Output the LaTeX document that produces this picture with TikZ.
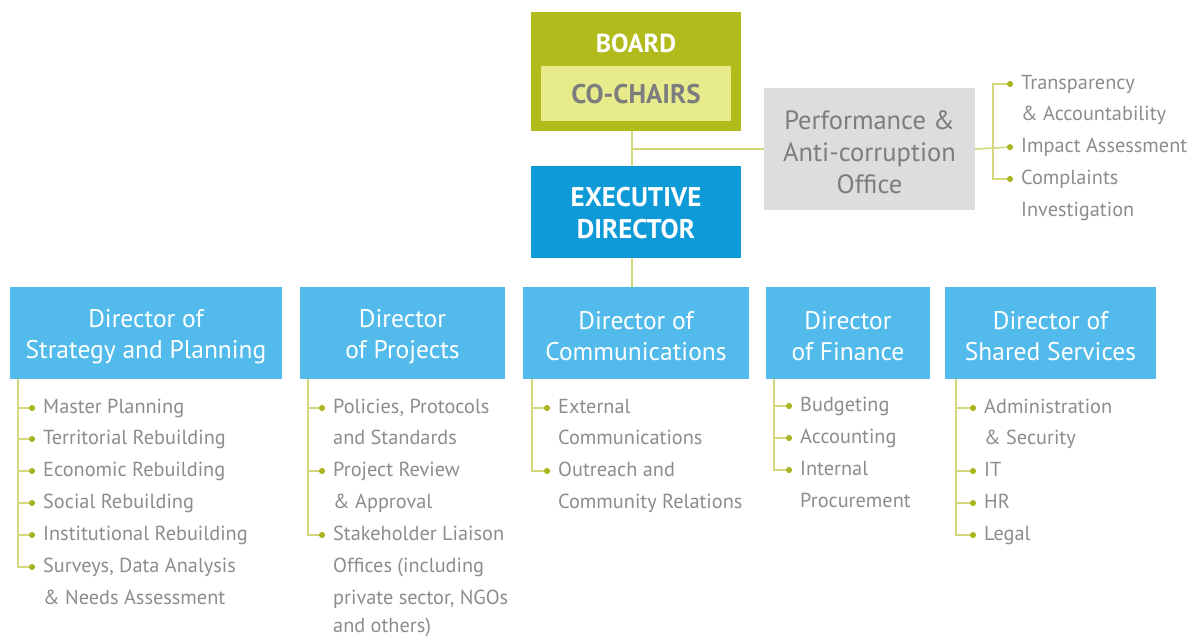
\documentclass[tikz,border=0pt]{standalone}
\usepackage{fontspec}
\setmainfont{PT Sans}
\usetikzlibrary{arrows.meta}
\definecolor{boardc}{HTML}{B2BB1C}
\definecolor{chairc}{HTML}{E8EB8C}
\definecolor{execc}{HTML}{0D9AD7}
\definecolor{dirc}{HTML}{52BBEB}
\definecolor{perfc}{HTML}{DCDDDE}
\definecolor{darkgrey}{HTML}{7D7D7D}
\definecolor{listc}{HTML}{8C8C8C}
\definecolor{linec}{HTML}{D3D87C}
\definecolor{dotc}{HTML}{A9B41E}
\begin{document}
\begin{tikzpicture}[x=1pt,y=-1pt,
  box/.style={draw=none,inner sep=0,align=center},
  title/.style={box,fill=dirc,minimum height=92pt},
  ttext/.style={box,text=white,font=\fontsize{25.5}{31}\selectfont},
  conn/.style={draw=linec,line width=1.6pt},
  tree/.style={conn,-{Circle[length=6pt,width=6pt,color=dotc]}},
  item/.style={anchor=west,inner sep=0,text=listc,font=\fontsize{20.3}{20}\selectfont,text height=14pt,text depth=4pt}]
\useasboundingbox (0,0) rectangle (1199,638);
% top
\node[box,fill=boardc,minimum width=210pt,minimum height=119pt] (board) at (636,71.5) {};
\node[box,text=white,font=\fontsize{26}{26}\selectfont\bfseries] (boardlbl) at (636,43) {BOARD};
\node[box,fill=chairc,minimum width=190pt,minimum height=55pt] (chairs) at (636,93.5) {};
\node[box,text=darkgrey,font=\fontsize{27}{27}\selectfont\bfseries] (chairslbl) at (636,94.5) {CO-CHAIRS};
\node[box,fill=execc,minimum width=210pt,minimum height=92pt] (exec) at (636,212) {};
\node[box,text=white,font=\fontsize{27}{32}\selectfont\bfseries] (execlbl) at (636,213) {EXECUTIVE\\DIRECTOR};
\node[box,fill=perfc,minimum width=211pt,minimum height=122pt] (perf) at (869.5,149) {};
\node[box,text=darkgrey,font=\fontsize{26.5}{32}\selectfont] (perflbl) at (869.5,152) {Performance \&\\Anti-corruption\\Office};
% directors
\node[title,minimum width=272pt] (d1) at (146,333) {};
\node[title,minimum width=205pt] (d2) at (402.5,333) {};
\node[title,minimum width=226pt] (d3) at (636,333) {};
\node[title,minimum width=164pt] (d4) at (848,333) {};
\node[title,minimum width=211pt] (d5) at (1050.5,333) {};
\node[ttext] (d1lbl) at (146,336.5) {Director of\\Strategy and Planning};
\node[ttext] (d2lbl) at (402.5,336.5) {Director\\of Projects};
\node[ttext] (d3lbl) at (636,336.5) {Director of\\Communications};
\node[ttext] (d4lbl) at (848,336.5) {Director\\of Finance};
\node[ttext] (d5lbl) at (1050.5,336.5) {Director of\\Shared Services};
% main connectors
\coordinate (bs) at ([xshift=-4pt]board.south);
\coordinate (es) at ([xshift=-4pt]exec.south);
\draw[conn] (bs) -- (bs |- exec.north);
\draw[conn] (bs |- perf.west) -- (perf.west);
\draw[conn] (es) -- (es |- d3.north);
% performance list
\node[item] (t1) at (1021,84) {Transparency};
\node[item] (t1b) at (1021,115) {\&~Accountability};
\node[item] (t2) at (1021,147) {Impact Assessment};
\node[item] (t3) at (1021,179) {Complaints};
\node[item] (t3b) at (1021,211) {Investigation};
\coordinate (pv) at (993,148);
\draw[tree] (perf.east) -- ([xshift=-8pt]t2.west);
\draw[tree] (pv) |- ([xshift=-8pt]t1.west);
\draw[tree] (pv) |- ([xshift=-8pt]t3.west);
% list 1
\node[item] (a1) at (43,408) {Master Planning};
\node[item] (a2) at (43,439) {Territorial Rebuilding};
\node[item] (a3) at (43,471) {Economic Rebuilding};
\node[item] (a4) at (43,503) {Social Rebuilding};
\node[item] (a5) at (43,535) {Institutional Rebuilding};
\node[item] (a6) at (43,567) {Surveys, Data Analysis};
\node[item] (a6b) at (43,599) {\&~Needs Assessment};
\coordinate (av) at (18,379);
\foreach \n in {a1,a2,a3,a4,a5,a6} \draw[tree] (av) |- ([xshift=-8pt]\n.west);
% list 2
\node[item] (b1) at (333,408) {Policies, Protocols};
\node[item] (b1b) at (333,439) {and Standards};
\node[item] (b2) at (333,471) {Project Review};
\node[item] (b2b) at (333,503) {\&~Approval};
\node[item] (b3) at (333,535) {Stakeholder Liaison};
\node[item] (b3b) at (333,567) {Offices (including};
\node[item] (b3c) at (333,599) {private sector, NGOs};
\node[item] (b3d) at (333,627) {and others)};
\coordinate (bv) at (308,379);
\foreach \n in {b1,b2,b3} \draw[tree] (bv) |- ([xshift=-8pt]\n.west);
% list 3
\node[item] (c1) at (558,408) {External};
\node[item] (c1b) at (558,439) {Communications};
\node[item] (c2) at (558,471) {Outreach and};
\node[item] (c2b) at (558,503) {Community Relations};
\coordinate (cv) at (532,379);
\foreach \n in {c1,c2} \draw[tree] (cv) |- ([xshift=-8pt]\n.west);
% list 4
\node[item] (f1) at (800,406) {Budgeting};
\node[item] (f2) at (800,438) {Accounting};
\node[item] (f3) at (800,470) {Internal};
\node[item] (f3b) at (800,502) {Procurement};
\coordinate (fv) at (774,379);
\foreach \n in {f1,f2,f3} \draw[tree] (fv) |- ([xshift=-8pt]\n.west);
% list 5
\node[item] (s1) at (984,408) {Administration};
\node[item] (s1b) at (984,439) {\&~Security};
\node[item] (s2) at (984,471) {IT};
\node[item] (s3) at (984,503) {HR};
\node[item] (s4) at (984,535) {Legal};
\coordinate (sv) at (956,379);
\foreach \n in {s1,s2,s3,s4} \draw[tree] (sv) |- ([xshift=-8pt]\n.west);
\end{tikzpicture}
\end{document}
